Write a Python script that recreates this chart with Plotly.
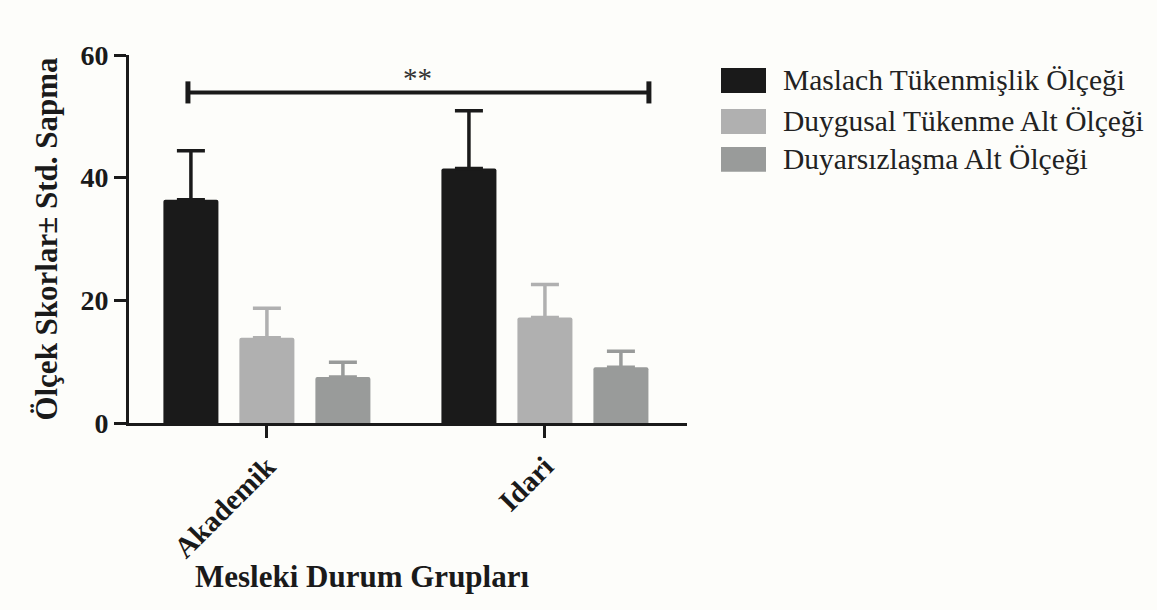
import plotly.graph_objects as go

groups = ["Akademik", "Idari"]
series_names = ["Maslach Tükenmişlik Ölçeği", "Duygusal Tükenme Alt Ölçeği", "Duyarsızlaşma Alt Ölçeği"]
means = [
    [36.4, 41.5],
    [13.9, 17.2],
    [7.5, 9.1],
]
sds = [
    [8.0, 9.4],
    [4.8, 5.4],
    [2.4, 2.6],
]
colors = ["#1a1a1a", "#b0b0b0", "#999b9a"]
y_ticks = [0, 20, 40, 60]
sig_label = "**"

SERIF = "Liberation Serif, Times New Roman, serif"

# pixel geometry helpers (plot area)
L, R, T, B = 129, 687, 55, 423.5
W, H = 1157, 610


def px_x(p):
    return (p - L) / (R - L)


def px_y(p):
    return (B - p) / (B - T)


fig = go.Figure()
for name, m, s, c in zip(series_names, means, sds, colors):
    fig.add_trace(go.Bar(
        x=groups, y=m, name=name,
        marker=dict(color=c, line=dict(width=0), cornerradius=2),
        error_y=dict(type="data", array=s, arrayminus=[0] * len(s), symmetric=False,
                     color=c, thickness=3.5, width=14),
        showlegend=False,
    ))

# significance bracket
y_br = 53.9
x0, x1 = -0.284, 1.374
fig.add_shape(type="line", xref="x", yref="y", x0=x0, x1=x1, y0=y_br, y1=y_br,
              line=dict(color="#1a1a1a", width=4))
fig.add_shape(type="line", xref="x", yref="y", x0=x0, x1=x0, y0=y_br - 1.8, y1=y_br + 1.8,
              line=dict(color="#1a1a1a", width=5))
fig.add_shape(type="line", xref="x", yref="y", x0=x1, x1=x1, y0=y_br - 1.8, y1=y_br + 1.8,
              line=dict(color="#1a1a1a", width=5))
fig.add_annotation(xref="paper", yref="paper", x=px_x(418), y=px_y(78), text=sig_label,
                   showarrow=False, font=dict(family=SERIF, size=29, color="#333333"),
                   xanchor="center", yanchor="middle")

# custom legend
rows = [80.5, 121.5, 159.5]
for name, c, ry in zip(series_names, colors, rows):
    fig.add_shape(type="rect", xref="paper", yref="paper",
                  x0=px_x(721), x1=px_x(766), y0=px_y(ry + 12.5), y1=px_y(ry - 12.5),
                  fillcolor=c, line=dict(width=0))
    fig.add_annotation(xref="paper", yref="paper", x=px_x(781), y=px_y(ry), text=name,
                       showarrow=False, xanchor="left", yanchor="middle",
                       font=dict(family=SERIF, size=29.5, color="#222222"))

# x-axis title as annotation (offset to left as in original)
fig.add_annotation(xref="paper", yref="paper", x=px_x(362), y=px_y(577), text="Mesleki Durum Grupları",
                   showarrow=False, xanchor="center", yanchor="middle",
                   font=dict(family=SERIF, size=31, color="#1a1a1a", weight="bold"))

fig.update_layout(
    width=W, height=H,
    margin=dict(l=L, r=W - R, t=T, b=H - B),
    paper_bgcolor="#fdfdfa", plot_bgcolor="#fdfdfa",
    barmode="group", bargap=0.18, bargroupgap=0.276,
    font=dict(family=SERIF, color="#1a1a1a"),
    showlegend=False,
)
fig.update_xaxes(
    type="category", range=[-0.496, 1.511],
    showline=True, linecolor="#1a1a1a", linewidth=3,
    ticks="outside", ticklen=12, tickwidth=3, tickcolor="#1a1a1a",
    tickangle=-45, tickfont=dict(family=SERIF, size=29, color="#1a1a1a", weight="bold"),
    showgrid=False, zeroline=False, automargin=False,
)
fig.update_yaxes(
    range=[0, 60], tickvals=y_ticks,
    showline=True, linecolor="#1a1a1a", linewidth=3,
    ticks="outside", ticklen=12, tickwidth=3, tickcolor="#1a1a1a",
    tickfont=dict(family=SERIF, size=28, color="#1a1a1a", weight="bold"),
    showgrid=False, zeroline=False, automargin=False,
    title=dict(text="Ölçek Skorlar± Std. Sapma", standoff=14,
               font=dict(family=SERIF, size=31, color="#1a1a1a", weight="bold")),
)

fig.write_html("out.html")
